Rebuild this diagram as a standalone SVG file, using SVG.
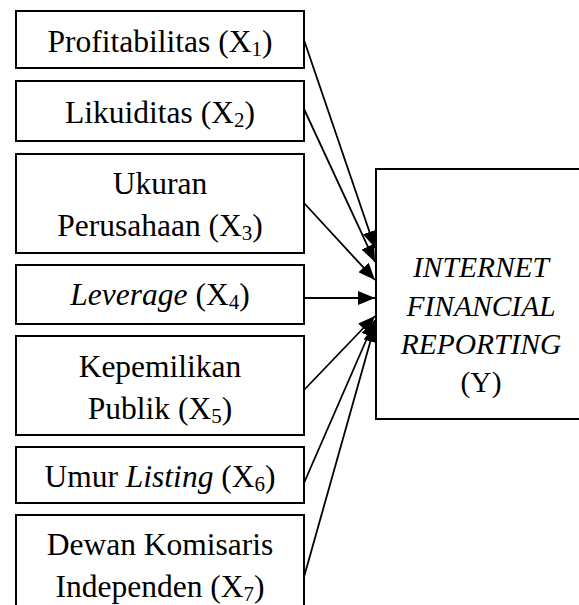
<svg xmlns="http://www.w3.org/2000/svg" width="579" height="605" viewBox="0 0 579 605">
<style>
.box{fill:#fff;stroke:#000;stroke-width:2}
.t{font-family:"Liberation Serif","Times New Roman",serif;font-size:31.5px;fill:#000;text-anchor:middle}
.ty{font-family:"Liberation Serif","Times New Roman",serif;font-size:29.5px;fill:#000;text-anchor:middle}
.i{font-style:italic}
.s{font-size:21px}
.c{stroke:#000;stroke-width:1.8;fill:none;marker-end:url(#ah)}
</style>
<defs>
<marker id="ah" markerUnits="userSpaceOnUse" markerWidth="18" markerHeight="14" refX="17" refY="7" orient="auto">
<path d="M0,0 L17,7 L0,14 Z" fill="#000"/>
</marker>
</defs>
<rect width="579" height="605" fill="#fff"/>
<g id="connectors">
<line class="c" x1="304" y1="40" x2="375" y2="248"/>
<line class="c" x1="304" y1="109" x2="375" y2="262"/>
<line class="c" x1="304" y1="203" x2="375" y2="280"/>
<line class="c" x1="304" y1="298" x2="375" y2="298"/>
<line class="c" x1="304" y1="390" x2="375" y2="316"/>
<line class="c" x1="304" y1="483" x2="375" y2="320"/>
<line class="c" x1="304" y1="577" x2="375" y2="325"/>
</g>
<g id="x1">
<rect class="box" x="16" y="11" width="288" height="57"/>
<text class="t" x="160" y="52">Profitabilitas (X<tspan class="s" dy="4">1</tspan><tspan dy="-4">)</tspan></text>
</g>
<g id="x2">
<rect class="box" x="16" y="81" width="288" height="60"/>
<text class="t" x="160" y="123">Likuiditas (X<tspan class="s" dy="4">2</tspan><tspan dy="-4">)</tspan></text>
</g>
<g id="x3">
<rect class="box" x="16" y="154" width="288" height="99"/>
<text class="t" x="160" y="194">Ukuran</text>
<text class="t" x="160" y="236">Perusahaan (X<tspan class="s" dy="4">3</tspan><tspan dy="-4">)</tspan></text>
</g>
<g id="x4">
<rect class="box" x="16" y="265" width="288" height="59"/>
<text class="t" x="160" y="305"><tspan class="i">Leverage</tspan> (X<tspan class="s" dy="4">4</tspan><tspan dy="-4">)</tspan></text>
</g>
<g id="x5">
<rect class="box" x="16" y="336" width="288" height="99"/>
<text class="t" x="160" y="377">Kepemilikan</text>
<text class="t" x="160" y="419">Publik (X<tspan class="s" dy="4">5</tspan><tspan dy="-4">)</tspan></text>
</g>
<g id="x6">
<rect class="box" x="16" y="447" width="288" height="56"/>
<text class="t" x="160" y="487">Umur <tspan class="i">Listing</tspan> (X<tspan class="s" dy="4">6</tspan><tspan dy="-4">)</tspan></text>
</g>
<g id="x7">
<rect class="box" x="16" y="515" width="288" height="110"/>
<text class="t" x="160" y="555">Dewan Komisaris</text>
<text class="t" x="160" y="597">Independen (X<tspan class="s" dy="4">7</tspan><tspan dy="-4">)</tspan></text>
</g>
<g id="y">
<rect class="box" x="376" y="169" width="212" height="250"/>
<text class="ty i" x="481" y="277">INTERNET</text>
<text class="ty i" x="481" y="316">FINANCIAL</text>
<text class="ty i" x="481" y="354">REPORTING</text>
<text class="ty" x="481" y="392">(Y)</text>
</g>
</svg>
